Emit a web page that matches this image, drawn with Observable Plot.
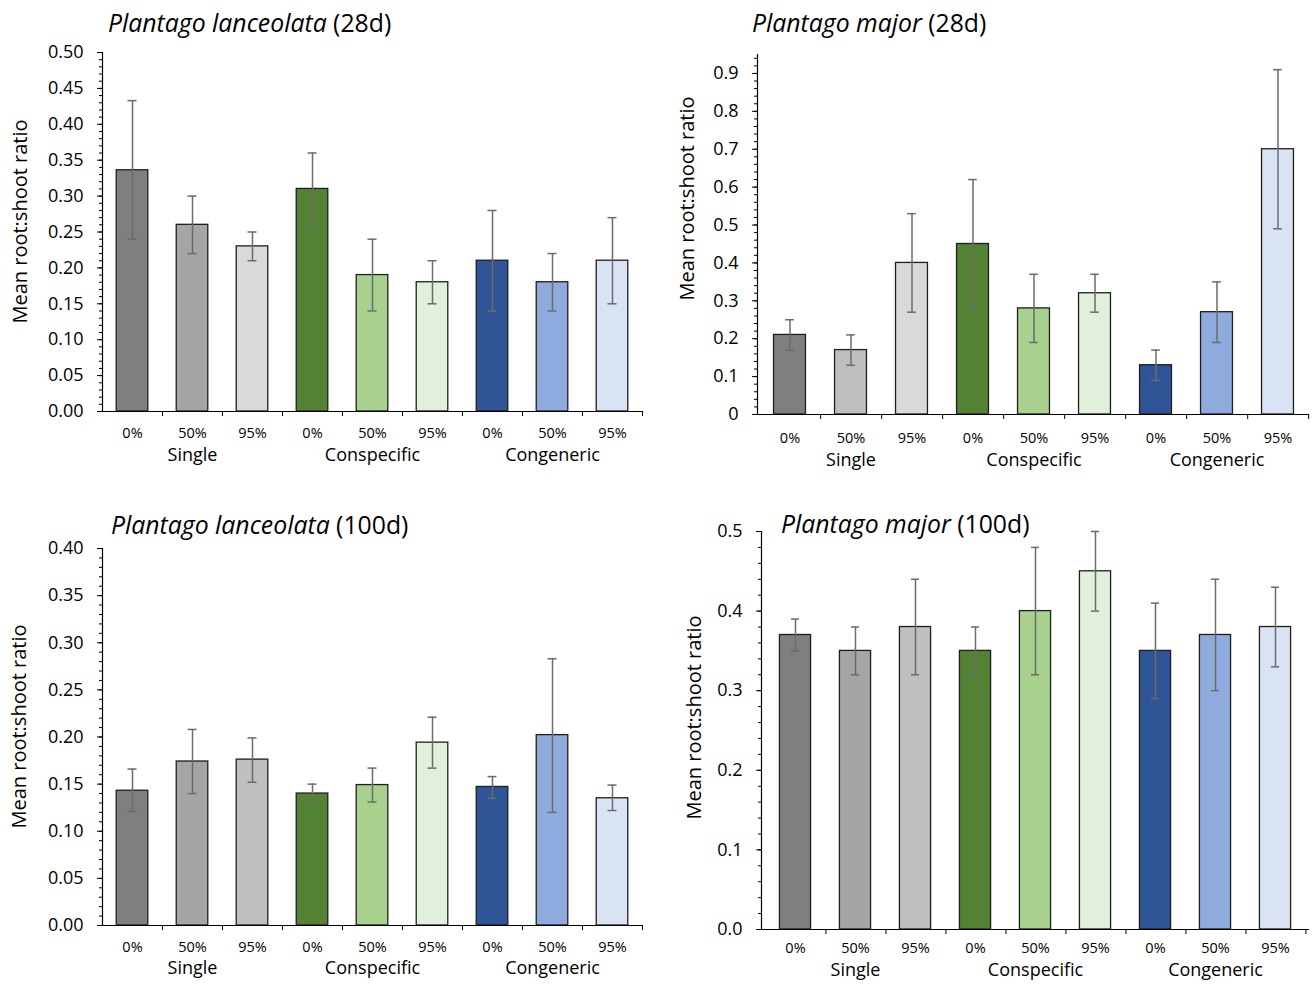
<!DOCTYPE html>
<html><head><meta charset="utf-8">
<script src="https://cdn.jsdelivr.net/npm/d3@7"></script>
<script src="https://cdn.jsdelivr.net/npm/@observablehq/plot@0.6"></script>
<style>
body{margin:0;background:#fff;}
#wrap{position:relative;width:1314px;height:984px;overflow:hidden;font-family:"Open Sans",Lato,sans-serif;background:#fff;}
.panel{position:absolute;}
.title{position:absolute;font-size:24.8px;line-height:25px;white-space:nowrap;color:#000;font-family:"Open Sans",Lato,sans-serif;}
</style></head><body><div id="wrap"></div>
<script>
// ---- categories ----
const levels = ["0%", "50%", "95%"];
const groups = ["Single", "Conspecific", "Congeneric"];
const yTitle = "Mean root:shoot ratio";

// ---- Plantago lanceolata (28d) ----
const lan28Species = "Plantago lanceolata";
const lan28Age = " (28d)";
const lan28Mean = [0.336, 0.26, 0.23, 0.31, 0.19, 0.18, 0.21, 0.18, 0.21];
const lan28Low  = [0.24, 0.22, 0.21, 0.26, 0.14, 0.15, 0.14, 0.14, 0.15];
const lan28High = [0.433, 0.30, 0.25, 0.36, 0.24, 0.21, 0.28, 0.22, 0.27];
const lan28Ticks = [0, 0.05, 0.10, 0.15, 0.20, 0.25, 0.30, 0.35, 0.40, 0.45, 0.50];

// ---- Plantago major (28d) ----
const maj28Species = "Plantago major";
const maj28Age = " (28d)";
const maj28Mean = [0.21, 0.17, 0.40, 0.45, 0.28, 0.32, 0.13, 0.27, 0.70];
const maj28Low  = [0.17, 0.13, 0.27, 0.28, 0.19, 0.27, 0.09, 0.19, 0.49];
const maj28High = [0.25, 0.21, 0.53, 0.62, 0.37, 0.37, 0.17, 0.35, 0.91];
const maj28Ticks = [0, 0.1, 0.2, 0.3, 0.4, 0.5, 0.6, 0.7, 0.8, 0.9];

// ---- Plantago lanceolata (100d) ----
const lan100Species = "Plantago lanceolata";
const lan100Age = " (100d)";
const lan100Mean = [0.143, 0.174, 0.176, 0.140, 0.149, 0.194, 0.147, 0.202, 0.135];
const lan100Low  = [0.121, 0.140, 0.152, 0.130, 0.131, 0.167, 0.135, 0.120, 0.122];
const lan100High = [0.166, 0.208, 0.199, 0.150, 0.167, 0.221, 0.158, 0.283, 0.149];
const lan100Ticks = [0, 0.05, 0.10, 0.15, 0.20, 0.25, 0.30, 0.35, 0.40];

// ---- Plantago major (100d) ----
const maj100Species = "Plantago major";
const maj100Age = " (100d)";
const maj100Mean = [0.37, 0.35, 0.38, 0.35, 0.40, 0.45, 0.35, 0.37, 0.38];
const maj100Low  = [0.35, 0.32, 0.32, 0.32, 0.32, 0.40, 0.29, 0.30, 0.33];
const maj100High = [0.39, 0.38, 0.44, 0.38, 0.48, 0.50, 0.41, 0.44, 0.43];
const maj100Ticks = [0, 0.1, 0.2, 0.3, 0.4, 0.5];

// ---- styles ----
const greens = ["#548235", "#a9d18e", "#e2efda"];
const blues = ["#2f5597", "#8faadc", "#dae3f3"];
const pal1 = ["#7f7f7f", "#a5a5a5", "#d9d9d9", ...greens, ...blues];
const pal2 = ["#7f7f7f", "#bfbfbf", "#d9d9d9", ...greens, ...blues];
const pal3 = ["#7f7f7f", "#a5a5a5", "#bfbfbf", ...greens, ...blues];

const panels = [
  {species: lan28Species, age: lan28Age, mean: lan28Mean, lo: lan28Low, hi: lan28High, colors: pal1,
   domain: [0, 0.5], major: lan28Ticks, minor: d3.range(0, 0.5001, 0.01), fmt: d => d.toFixed(2),
   left: 0, top: 0, width: 657, height: 490, mL: 102, mR: 15, mT: 52, mB: 79,
   titleX: 108, titleBase: 31, yTitleX: 20, yTitleY: 221, catTop: 16.5, grpTop: 37},
  {species: maj28Species, age: maj28Age, mean: maj28Mean, lo: maj28Low, hi: maj28High, colors: pal2,
   domain: [0, 0.95], major: maj28Ticks, minor: d3.range(0, 0.945, 0.02), fmt: d => d === 0 ? "0" : d.toFixed(1),
   left: 657, top: 0, width: 657, height: 490, mL: 100, mR: 5, mT: 54, mB: 76,
   titleX: 752, titleBase: 31, yTitleX: 687.5, yTitleY: 198, catTop: 18.5, grpTop: 38.5},
  {species: lan100Species, age: lan100Age, mean: lan100Mean, lo: lan100Low, hi: lan100High, colors: pal3,
   domain: [0, 0.4], major: lan100Ticks, minor: d3.range(0, 0.4001, 0.01), fmt: d => d.toFixed(2),
   left: 0, top: 490, width: 657, height: 494, mL: 102, mR: 15, mT: 58, mB: 59,
   titleX: 111, titleBase: 533, yTitleX: 19.5, yTitleY: 726, catTop: 16.5, grpTop: 36},
  {species: maj100Species, age: maj100Age, mean: maj100Mean, lo: maj100Low, hi: maj100High, colors: pal3,
   domain: [0, 0.5], major: maj100Ticks, minor: d3.range(0, 0.5001, 0.02), fmt: d => d.toFixed(1),
   left: 657, top: 490, width: 657, height: 494, mL: 104, mR: 5, mT: 41, mB: 55,
   titleX: 781, titleBase: 532, yTitleX: 694, yTitleY: 717, catTop: 13, grpTop: 33.5}
];

const wrap = document.getElementById("wrap");
const FONT = '"Open Sans", Lato, sans-serif';

for (const cfg of panels) {
  const rows = cfg.mean.map((m, i) => ({
    id: groups[Math.floor(i / 3)] + "|" + levels[i % 3],
    level: levels[i % 3],
    mean: m, lo: cfg.lo[i], hi: cfg.hi[i], color: cfg.colors[i]
  }));
  const ids = rows.map(d => d.id);
  const grpRows = groups.map(g => ({id: g + "|" + levels[1], label: g}));
  const step = (cfg.width - cfg.mL - cfg.mR) / ids.length;
  const barInset = step * 0.237;
  const capInset = (step - 9) / 2;
  const frameMidY = cfg.top + cfg.mT + (cfg.height - cfg.mT - cfg.mB) / 2;
  const errColor = "#6b6b6b";

  const chart = Plot.plot({
    width: cfg.width, height: cfg.height,
    marginLeft: cfg.mL, marginRight: cfg.mR, marginTop: cfg.mT, marginBottom: cfg.mB,
    style: {fontFamily: FONT, fontSize: "18px", color: "#000", background: "transparent", overflow: "visible"},
    x: {type: "band", domain: ids, padding: 0, axis: null},
    y: {domain: cfg.domain, axis: null},
    color: {type: "identity"},
    marks: [
      Plot.barY(rows, {x: "id", y: "mean", fill: "color", stroke: "#1e1e1e", strokeWidth: 1.3,
        insetLeft: barInset, insetRight: barInset}),
      Plot.ruleX(rows, {x: "id", y1: "lo", y2: "hi", stroke: errColor, strokeWidth: 1.5}),
      Plot.tickY(rows, {x: "id", y: "lo", stroke: errColor, strokeWidth: 1.5, insetLeft: capInset, insetRight: capInset}),
      Plot.tickY(rows, {x: "id", y: "hi", stroke: errColor, strokeWidth: 1.5, insetLeft: capInset, insetRight: capInset}),
      Plot.ruleY([0], {stroke: "#000", strokeWidth: 1.2}),
      Plot.frame({anchor: "left", stroke: "#000", strokeWidth: 1.2}),
      Plot.axisY({ticks: cfg.minor, tickSize: 3, tickFormat: () => "", label: null, stroke: "#000"}),
      Plot.axisY({ticks: cfg.major, tickSize: 5, tickPadding: 14, tickFormat: cfg.fmt, label: null, fontSize: 18, stroke: "#000"}),
      Plot.axisX({ticks: ids, tickSize: 5, tickFormat: () => "", label: null, dx: step / 2, stroke: "#000"}),
      Plot.axisX({ticks: ids, tickSize: 0, tickPadding: cfg.catTop, tickFormat: d => d.split("|")[1], label: null, fontSize: 14.5}),
      Plot.text(grpRows, {x: "id", frameAnchor: "bottom", text: "label", dy: cfg.grpTop, lineAnchor: "top", fontSize: 18}),
      Plot.text([yTitle], {frameAnchor: "left", textAnchor: "middle", rotate: -90, text: d => d, lineAnchor: "middle", fontSize: 20,
        dx: cfg.yTitleX - (cfg.left + cfg.mL), dy: cfg.yTitleY - frameMidY})
    ]
  });
  const holder = document.createElement("div");
  holder.className = "panel";
  holder.style.left = cfg.left + "px";
  holder.style.top = cfg.top + "px";
  holder.appendChild(chart);
  wrap.appendChild(holder);

  const t = document.createElement("div");
  t.className = "title";
  t.style.left = cfg.titleX + "px";
  t.style.top = (cfg.titleBase - 21) + "px";
  const it = document.createElement("i");
  it.textContent = cfg.species;
  t.appendChild(it);
  t.appendChild(document.createTextNode(cfg.age));
  wrap.appendChild(t);
}
</script>
</body></html>
